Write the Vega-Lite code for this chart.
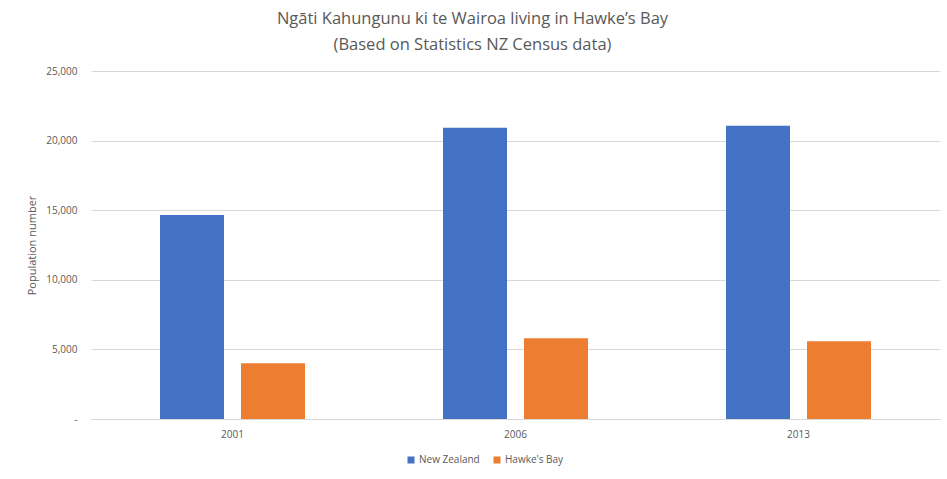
{
  "$schema": "https://vega.github.io/schema/vega-lite/v6.json",
  "autosize": "none",
  "width": 849,
  "height": 348,
  "padding": {"left": 91, "top": 71, "right": 7, "bottom": 60},
  "background": "white",
  "title": {
    "text": ["Ngāti Kahungunu ki te Wairoa living in Hawke’s Bay", "(Based on Statistics NZ Census data)"],
    "font": "Open Sans",
    "fontSize": 16.5,
    "fontWeight": "normal",
    "color": "#595959",
    "lineHeight": 26,
    "anchor": "middle",
    "frame": "group",
    "dx": -43,
    "offset": 13
  },
  "data": {
    "values": [
      {"year": "2001", "series": "New Zealand", "population": 14650},
      {"year": "2001", "series": "Hawke's Bay", "population": 4010},
      {"year": "2006", "series": "New Zealand", "population": 20920},
      {"year": "2006", "series": "Hawke's Bay", "population": 5800},
      {"year": "2013", "series": "New Zealand", "population": 21060},
      {"year": "2013", "series": "Hawke's Bay", "population": 5590}
    ]
  },
  "mark": {"type": "bar"},
  "encoding": {
    "x": {
      "field": "year",
      "type": "nominal",
      "scale": {"paddingInner": 0, "paddingOuter": 0},
      "axis": {
        "title": null,
        "labelAngle": 0,
        "labelFont": "Open Sans",
        "labelFontSize": 10,
        "labelColor": "#595959",
        "labelPadding": 10,
        "ticks": false,
        "domainColor": "#d9d9d9",
        "domainWidth": 1
      }
    },
    "xOffset": {
      "field": "series",
      "type": "nominal",
      "sort": ["New Zealand", "Hawke's Bay"],
      "scale": {"paddingInner": 0.21, "paddingOuter": 0.852}
    },
    "y": {
      "field": "population",
      "type": "quantitative",
      "scale": {"domain": [0, 25000], "nice": false},
      "axis": {
        "title": "Population number",
        "titleFont": "Open Sans",
        "titleFontSize": 11,
        "titleFontWeight": "normal",
        "titleColor": "#595959",
        "titlePadding": 8,
        "values": [0, 5000, 10000, 15000, 20000, 25000],
        "labelExpr": "datum.value == 0 ? '-' : format(datum.value, ',')",
        "labelFont": "Open Sans",
        "labelFontSize": 10,
        "labelColor": "#595959",
        "labelPadding": 14,
        "ticks": false,
        "domain": false,
        "grid": true,
        "gridColor": "#d9d9d9",
        "gridWidth": 1
      }
    },
    "color": {
      "field": "series",
      "type": "nominal",
      "sort": ["New Zealand", "Hawke's Bay"],
      "scale": {"domain": ["New Zealand", "Hawke's Bay"], "range": ["#4472c4", "#ed7d31"]},
      "legend": {
        "title": null,
        "orient": "none",
        "direction": "horizontal",
        "legendX": 315,
        "legendY": 384,
        "symbolType": "square",
        "symbolSize": 49,
        "symbolStrokeWidth": 0,
        "labelFont": "Open Sans",
        "labelFontSize": 10,
        "labelColor": "#595959",
        "labelOffset": 3,
        "columnPadding": 12
      }
    }
  },
  "config": {
    "view": {"stroke": null}
  }
}
